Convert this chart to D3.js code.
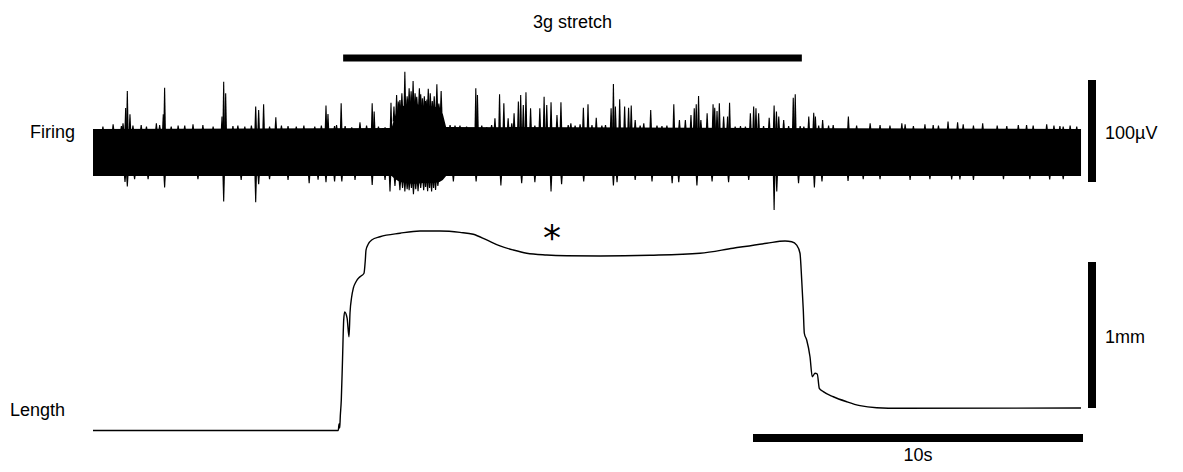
<!DOCTYPE html>
<html>
<head>
<meta charset="utf-8">
<script src="https://cdn.jsdelivr.net/npm/d3@7/dist/d3.min.js"></script>
<style>
  html, body { margin: 0; padding: 0; background: #fff; }
  svg { display: block; }
  text { font-family: "Liberation Sans", Arial, sans-serif; fill: #000; }
</style>
</head>
<body>
<svg id="chart" width="1183" height="472"></svg>
<script>
// ---- Firing: background noise band envelope (µV) over time (s) ----
const envT   = [0, 9.05, 9.15, 9.3, 9.5, 9.7, 10.0, 10.3, 10.5, 10.6, 10.7, 29.94];
const envTop = [23, 24, 36, 44, 47, 48, 46, 45, 44, 38, 25, 23];
const envBot = [-23, -23, -26, -29, -30, -31, -30, -30, -29, -27, -23, -23];

// Upward deflections: time (s) and peak (µV)
const spikeT = [0.30, 0.61, 0.86, 0.91, 0.99, 1.04, 1.12, 1.21, 1.46, 1.62, 1.92, 2.02, 2.13, 2.17,
  2.37, 2.58, 2.78, 3.03, 3.33, 3.64, 3.91, 3.96, 4.02, 4.24, 4.39, 4.60, 4.80,
  4.93, 5.02, 5.17, 5.35, 5.54, 5.71, 5.91, 6.16, 6.39, 6.72, 6.92, 7.06, 7.12, 7.32, 7.38, 7.52,
  7.64, 7.84, 8.09, 8.29, 8.46, 8.52, 8.65, 8.85, 9.03, 9.12, 9.20, 9.25, 9.30, 9.36, 9.45,
  9.52, 9.58, 9.64, 9.70, 9.76, 9.81, 9.89, 9.93, 9.98, 10.04, 10.08, 10.12, 10.16, 10.22, 10.28,
  10.34, 10.42, 10.48, 10.55, 10.67, 10.82, 10.97, 11.12, 11.32, 11.60, 11.65, 11.78, 11.93,
  12.08, 12.18, 12.32, 12.45, 12.58, 12.69, 12.76, 12.89, 12.96, 13.04, 13.12, 13.26, 13.39,
  13.54, 13.67, 13.75, 13.88, 14.06, 14.18, 14.40, 14.48, 14.61, 14.76, 14.86, 15.00, 15.12,
  15.25, 15.42, 15.53, 15.70, 15.77, 15.83, 15.96, 16.11, 16.23, 16.31, 16.43, 16.58,
  16.69, 16.90, 17.09, 17.24, 17.39, 17.60, 17.77, 17.95, 18.12, 18.22, 18.28, 18.35, 18.42,
  18.61, 18.79, 18.84, 18.91, 18.98, 19.11, 19.23, 19.29, 19.46, 19.62, 19.77, 19.92, 20.02,
  20.09, 20.17, 20.32, 20.49, 20.64, 20.71, 20.78, 20.93, 21.08, 21.22, 21.28, 21.43, 21.54,
  21.69, 21.84, 21.89, 21.99, 22.11, 22.29, 22.43, 22.89, 23.14, 23.55, 23.85, 24.15, 24.51,
  24.61, 24.86, 25.21, 25.46, 25.62, 25.91, 26.20, 26.37, 26.68, 26.96, 27.40, 27.69, 28.04,
  28.29, 28.49, 28.90, 29.12, 29.30, 29.40, 29.61, 29.81];
const spikePeak = [25.3, 27.6, 26.0, 28.6, 43.6, 60.3, 37.5, 26.3, 27.0, 25.3, 28.6, 27.0, 37.5, 63.5,
  25.3, 26.3, 26.3, 27.6, 27.0, 25.3, 35.1, 69.4, 58.0, 26.0, 26.3, 25.3, 26.3,
  44.9, 41.7, 47.3, 25.3, 34.5, 26.3, 26.0, 25.3, 26.3, 25.3, 26.3, 45.9, 37.7, 26.0, 27.0, 48.2,
  26.0, 24.7, 29.6, 26.3, 48.2, 40.0, 25.3, 24.7, 48.8, 45.0, 56.4, 50.0, 51.5, 58.0, 79.2,
  55.0, 62.9, 60.0, 70.1, 58.0, 54.7, 62.9, 57.0, 53.1, 55.0, 50.5, 52.0, 62.3, 58.0, 50.5,
  55.0, 66.9, 48.0, 60.3, 26.3, 27.0, 26.3, 26.3, 25.3, 62.9, 56.4, 26.3, 24.7,
  27.0, 33.5, 57.1, 48.2, 33.5, 28.6, 38.4, 49.8, 56.4, 46.6, 59.0, 43.3, 26.3,
  43.3, 54.7, 46.6, 49.2, 36.8, 49.2, 27.0, 28.6, 26.3, 27.6, 43.9, 47.3, 27.0,
  34.1, 26.3, 27.0, 43.3, 67.2, 44.9, 52.2, 44.9, 43.9, 45.9, 31.9, 26.3,
  28.6, 41.7, 26.3, 26.0, 26.3, 47.3, 31.9, 31.9, 36.8, 43.3, 47.3, 55.4, 31.9,
  38.4, 47.3, 43.9, 40.7, 48.2, 35.1, 35.1, 48.8, 25.3, 26.0, 25.3, 38.4, 44.9,
  43.3, 38.4, 26.0, 34.1, 45.9, 40.0, 35.1, 31.9, 26.0, 53.7, 57.1, 26.0, 25.3,
  35.1, 39.0, 35.1, 26.3, 31.9, 26.3, 27.0, 35.1, 26.3, 28.6, 27.0, 26.3, 28.6,
  27.6, 26.0, 27.6, 27.0, 26.3, 30.2, 29.6, 27.6, 26.3, 28.6, 26.3, 26.0, 27.0,
  27.0, 26.3, 27.6, 26.3, 26.0, 25.3, 26.3, 25.3];

// Downward deflections: time (s) and trough (µV)
const dipT = [0.97, 1.04, 1.26, 1.67, 2.17, 3.18, 3.96, 4.49, 4.93, 5.02, 5.35, 5.91, 6.55, 6.82,
  7.06, 7.32, 7.54, 7.94, 8.46, 8.85, 9.00, 9.15, 9.30, 9.38, 9.45, 9.52, 9.58, 9.65, 9.71, 9.78,
  9.85, 9.93, 10.02, 10.08, 10.14, 10.20, 10.26, 10.32, 10.38, 10.45, 10.92, 11.61, 12.36,
  12.99, 13.39, 13.88, 14.20, 14.87, 15.77, 15.88, 16.43, 16.94,
  17.55, 17.75, 18.30, 18.76, 19.26, 19.87, 20.64, 20.72, 21.38, 21.86, 22.09, 22.88, 23.34,
  23.85, 24.76, 25.36, 26.02, 26.27, 26.68, 27.59, 28.39, 28.99, 29.40];
const dipPeak = [-28.9, -33.5, -26.3, -26.3, -34.5, -26.3, -48.2, -27.0, -48.8, -31.2, -26.3, -27.0,
  -30.2, -26.9, -29.2, -28.6, -28.6, -27.0, -31.9, -27.0, -38.4, -33.0, -37.0, -35.0, -38.4,
  -36.0, -37.0, -35.0, -41.0, -36.0, -38.0, -35.0, -37.0, -34.0, -38.0, -35.0, -38.4, -35.0,
  -36.8, -33.0, -28.6, -28.6, -32.5,
  -30.2, -29.2, -38.4, -31.2, -28.6, -32.5, -29.2, -27.0, -28.6,
  -30.2, -29.2, -32.5, -28.6, -29.2, -27.0, -56.4, -38.4, -30.2, -34.5, -28.6, -27.9, -26.3,
  -26.3, -27.0, -26.3, -26.5, -26.5, -27.0, -26.3, -26.3, -26.5, -26.3];

// ---- Length trace (mm, relative to final rest length) ----
const lenT = [0, 7.433, 7.455, 7.476, 7.494, 7.524, 7.561, 7.597, 7.627, 7.700, 7.758, 7.788, 7.839,
  7.888, 7.970, 8.091, 8.212, 8.252, 8.273, 8.342, 8.445, 8.697, 9.303, 9.909, 10.515, 11.121,
  11.524, 11.930, 12.333, 12.736, 13.142, 13.748, 14.355, 15.364, 16.879, 18.394, 19.394,
  20.415, 20.970, 21.173, 21.324, 21.424, 21.476, 21.524, 21.555, 21.627, 21.727, 21.797,
  21.879, 21.948, 22.009, 22.130, 22.433, 22.839, 23.242, 23.748, 24.455, 29.939];
const lenMM = [-0.154, -0.154, -0.110, -0.137, -0.055, 0.055, 0.329, 0.603, 0.658, 0.616, 0.488, 0.651, 0.762,
  0.820, 0.865, 0.899, 0.923, 1.014, 1.082, 1.123, 1.151, 1.173, 1.197, 1.212, 1.212, 1.203,
  1.190, 1.151, 1.110, 1.082, 1.060, 1.048, 1.043, 1.041, 1.046, 1.060, 1.094,
  1.128, 1.144, 1.139, 1.116, 1.060, 0.877, 0.671, 0.512, 0.466, 0.351, 0.214,
  0.238, 0.233, 0.135, 0.112, 0.077, 0.043, 0.016, 0.002, -0.002, 0];

// Stimulus period and scale bars
const stretchT = [7.58, 21.48];
const timeBarT = [20, 30];
const voltBar = [-29, 71];   // 100 µV
const lenBar = [0, 1];       // 1 mm

const svg = d3.select("#chart");

const x = d3.scaleLinear().domain([0, 30]).range([93, 1083]);
const yF = d3.scaleLinear().domain([-29, 71]).range([182, 80]);
const yL = d3.scaleLinear().domain([0, 1]).range([408, 262]);

// noise band
const band = envT.map((t, i) => ({ t, top: envTop[i], bot: envBot[i] }));
const envTopAt = d3.scaleLinear().domain(envT).range(envTop).clamp(true);
const envBotAt = d3.scaleLinear().domain(envT).range(envBot).clamp(true);
svg.append("path")
  .datum(band)
  .attr("d", d3.area().x(d => x(d.t)).y0(d => yF(d.bot)).y1(d => yF(d.top)))
  .attr("fill", "#000");

// thin tapered deflection from the band edge out to its extreme value
function deflection(t, base, peak) {
  const xb = x(t), yb = yF(base), yp = yF(peak);
  return `M${xb - 1.3},${yb}L${xb - 0.55},${yp}L${xb + 0.55},${yp}L${xb + 1.3},${yb}Z`;
}

svg.append("g").selectAll("path")
  .data(spikeT.map((t, i) => ({ t, v: spikePeak[i] })))
  .join("path")
  .attr("d", d => deflection(d.t, Math.min(envTopAt(d.t) - 2, d.v), d.v))
  .attr("fill", "#000");

svg.append("g").selectAll("path")
  .data(dipT.map((t, i) => ({ t, v: dipPeak[i] })))
  .join("path")
  .attr("d", d => deflection(d.t, Math.max(envBotAt(d.t) + 2, d.v), d.v))
  .attr("fill", "#000");

// length trace
const lenData = lenT.map((t, i) => ({ t, v: lenMM[i] }));
svg.append("path")
  .datum(lenData)
  .attr("d", d3.line().x(d => x(d.t)).y(d => yL(d.v)).curve(d3.curveMonotoneX))
  .attr("fill", "none")
  .attr("stroke", "#000")
  .attr("stroke-width", 1.4);

// stimulus bar
svg.append("rect")
  .attr("x", x(stretchT[0])).attr("width", x(stretchT[1]) - x(stretchT[0]))
  .attr("y", 54.5).attr("height", 7).attr("fill", "#000");
svg.append("text")
  .attr("x", (x(stretchT[0]) + x(stretchT[1])) / 2).attr("y", 28)
  .attr("text-anchor", "middle").attr("font-size", 18).text("3g stretch");

// time scale bar
svg.append("rect")
  .attr("x", x(timeBarT[0])).attr("width", x(timeBarT[1]) - x(timeBarT[0]))
  .attr("y", 434).attr("height", 8).attr("fill", "#000");
svg.append("text")
  .attr("x", (x(timeBarT[0]) + x(timeBarT[1])) / 2).attr("y", 461)
  .attr("text-anchor", "middle").attr("font-size", 18).text("10s");

// voltage scale bar
svg.append("rect")
  .attr("x", 1088).attr("width", 8)
  .attr("y", yF(voltBar[1])).attr("height", yF(voltBar[0]) - yF(voltBar[1]))
  .attr("fill", "#000");
svg.append("text").attr("x", 1105).attr("y", 139).attr("font-size", 18).text("100µV");

// length scale bar
svg.append("rect")
  .attr("x", 1088).attr("width", 8)
  .attr("y", yL(lenBar[1])).attr("height", yL(lenBar[0]) - yL(lenBar[1]))
  .attr("fill", "#000");
svg.append("text").attr("x", 1105).attr("y", 343).attr("font-size", 18).text("1mm");

// trace labels
svg.append("text").attr("x", 30).attr("y", 138).attr("font-size", 18).text("Firing");
svg.append("text").attr("x", 10).attr("y", 416).attr("font-size", 18).text("Length");

// marker above the plateau sag
svg.append("text").attr("x", 552).attr("y", 250)
  .attr("text-anchor", "middle").attr("font-size", 36)
  .style("font-family", "'DejaVu Sans', sans-serif").text("*");
</script>
</body>
</html>
